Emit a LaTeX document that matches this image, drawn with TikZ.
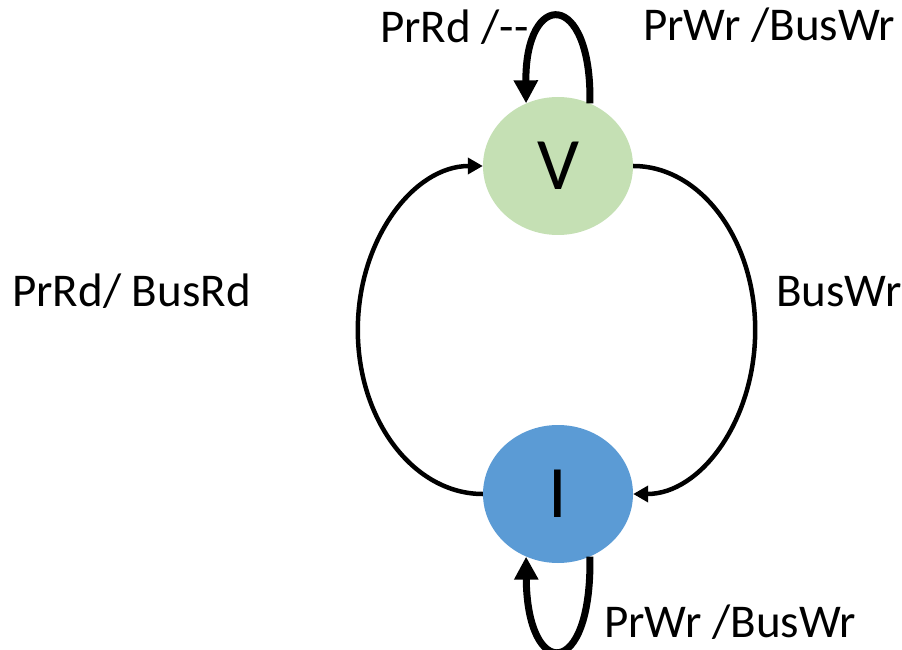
\documentclass[tikz,border=0pt]{standalone}
\usepackage{fontspec}
\setmainfont{Carlito}
\usetikzlibrary{arrows.meta,shapes.geometric}
\definecolor{vgreen}{HTML}{C5E0B4}
\definecolor{iblue}{HTML}{5B9BD5}
\tikzset{
  statenode/.style={ellipse, minimum width=150pt, minimum height=138pt, inner sep=0pt, font=\fontsize{74}{80}\selectfont},
  thinarrow/.style={line width=4.5pt, -{Triangle[length=15pt,width=16pt]}},
  thickarrow/.style={line width=7pt, -{Triangle[length=23pt,width=23pt]}},
  lbl/.style={anchor=base west, inner sep=0pt, font=\fontsize{47}{52}\selectfont}
}
\begin{document}
\begin{tikzpicture}[x=1pt,y=1pt]
\useasboundingbox (0,0) rectangle (902,649);
\clip (0,0) rectangle (902,649);
\node[statenode, fill=vgreen] (V) at (558,483) {V};
\node[statenode, fill=iblue] (I) at (558,155) {I};
% big arcs
\draw[thinarrow] (I.west) arc[start angle=270, end angle=90, x radius=125, y radius=164];
\draw[thinarrow] (V.east) arc[start angle=90, end angle=-90, x radius=122, y radius=164];
% self loops
\draw[thickarrow] (V.63) .. controls (592,660) and (525,660) .. (V.117);
\draw[thickarrow] (I.-63) .. controls (592,-32) and (527,-32) .. (I.-117);
% labels
\node[lbl] (l1) at (380,606) {PrRd /{-}{-}};
\node[lbl] (l2) at (643,608) {PrWr /BusWr};
\node[lbl] (l3) at (12,342) {PrRd/ BusRd};
\node[lbl] (l4) at (776,342) {BusWr};
\node[lbl] (l5) at (604,12) {PrWr /BusWr};
\end{tikzpicture}
\end{document}
